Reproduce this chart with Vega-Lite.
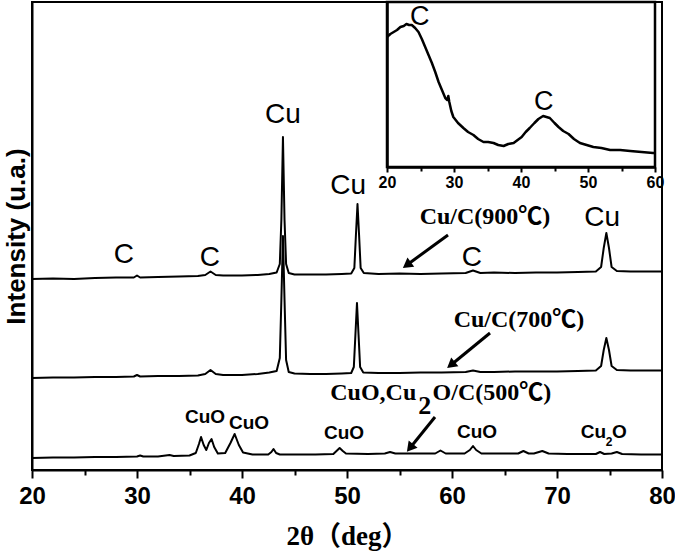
{
  "$schema": "https://vega.github.io/schema/vega-lite/v6.json",
  "width": 630,
  "height": 468,
  "autosize": "none",
  "padding": {"left": 32, "top": 2, "right": 13, "bottom": 84},
  "background": "white",
  "config": {
    "view": {"stroke": "black", "strokeWidth": 2},
    "axis": {"grid": false}
  },
  "datasets": {
    "xrd": [
      {"s":"900","t":20,"i":191},{"s":"900","t":22,"i":191.5},{"s":"900","t":24,"i":191},{"s":"900","t":26,"i":192},{"s":"900","t":28,"i":192.5},{"s":"900","t":29.7,"i":192.5},{"s":"900","t":30.0,"i":194.5},{"s":"900","t":30.3,"i":192.5},{"s":"900","t":32,"i":193},{"s":"900","t":34,"i":193.5},{"s":"900","t":35.8,"i":194},{"s":"900","t":36.5,"i":195},{"s":"900","t":37.0,"i":198.5},{"s":"900","t":37.5,"i":195},{"s":"900","t":38.2,"i":194.5},{"s":"900","t":40,"i":194.5},{"s":"900","t":41.5,"i":195},{"s":"900","t":42.6,"i":196},{"s":"900","t":43.3,"i":197.5},{"s":"900","t":43.6,"i":206},{"s":"900","t":43.75,"i":250},{"s":"900","t":43.9,"i":333},{"s":"900","t":44.05,"i":250},{"s":"900","t":44.2,"i":206},{"s":"900","t":44.45,"i":197},{"s":"900","t":45,"i":195.5},{"s":"900","t":46.5,"i":195.5},{"s":"900","t":48,"i":195.5},{"s":"900","t":49.5,"i":196},{"s":"900","t":50.4,"i":196.5},{"s":"900","t":50.7,"i":202},{"s":"900","t":50.85,"i":235},{"s":"900","t":51.0,"i":266},{"s":"900","t":51.15,"i":235},{"s":"900","t":51.3,"i":202},{"s":"900","t":51.6,"i":197},{"s":"900","t":53,"i":196},{"s":"900","t":55,"i":196.5},{"s":"900","t":57,"i":196},{"s":"900","t":59,"i":196.5},{"s":"900","t":61.3,"i":197},{"s":"900","t":62.0,"i":199.5},{"s":"900","t":62.7,"i":197},{"s":"900","t":64,"i":197.5},{"s":"900","t":66,"i":197},{"s":"900","t":68,"i":197.5},{"s":"900","t":70,"i":197.5},{"s":"900","t":72,"i":198},{"s":"900","t":73.7,"i":198.5},{"s":"900","t":74.2,"i":203},{"s":"900","t":74.45,"i":222},{"s":"900","t":74.7,"i":237},{"s":"900","t":74.95,"i":222},{"s":"900","t":75.2,"i":203},{"s":"900","t":75.7,"i":199},{"s":"900","t":77,"i":198.5},{"s":"900","t":80,"i":198.5},
      {"s":"700","t":20,"i":92},{"s":"700","t":22,"i":92.5},{"s":"700","t":24,"i":92.5},{"s":"700","t":26,"i":93},{"s":"700","t":28,"i":93},{"s":"700","t":29.7,"i":93.5},{"s":"700","t":30.0,"i":95},{"s":"700","t":30.3,"i":93.5},{"s":"700","t":32,"i":94},{"s":"700","t":34,"i":94},{"s":"700","t":35.8,"i":94.5},{"s":"700","t":36.5,"i":96},{"s":"700","t":37.0,"i":100},{"s":"700","t":37.5,"i":96},{"s":"700","t":38.2,"i":95},{"s":"700","t":40,"i":95},{"s":"700","t":41.5,"i":96},{"s":"700","t":42.6,"i":97.5},{"s":"700","t":43.3,"i":99},{"s":"700","t":43.6,"i":112},{"s":"700","t":43.75,"i":170},{"s":"700","t":43.9,"i":234},{"s":"700","t":44.05,"i":170},{"s":"700","t":44.2,"i":110},{"s":"700","t":44.45,"i":98},{"s":"700","t":45,"i":96.5},{"s":"700","t":46.5,"i":96},{"s":"700","t":48,"i":96},{"s":"700","t":49.5,"i":96.5},{"s":"700","t":50.4,"i":97},{"s":"700","t":50.65,"i":103},{"s":"700","t":50.8,"i":135},{"s":"700","t":50.95,"i":167},{"s":"700","t":51.1,"i":135},{"s":"700","t":51.25,"i":103},{"s":"700","t":51.55,"i":97.5},{"s":"700","t":53,"i":97},{"s":"700","t":55,"i":97},{"s":"700","t":57,"i":97.5},{"s":"700","t":59,"i":97.5},{"s":"700","t":61.3,"i":98},{"s":"700","t":62.0,"i":99.5},{"s":"700","t":62.7,"i":98},{"s":"700","t":64,"i":98},{"s":"700","t":66,"i":98.5},{"s":"700","t":68,"i":98.5},{"s":"700","t":70,"i":98.5},{"s":"700","t":72,"i":99},{"s":"700","t":73.7,"i":99.5},{"s":"700","t":74.2,"i":104},{"s":"700","t":74.45,"i":120},{"s":"700","t":74.7,"i":132},{"s":"700","t":74.95,"i":120},{"s":"700","t":75.2,"i":104},{"s":"700","t":75.7,"i":100},{"s":"700","t":77,"i":99.5},{"s":"700","t":80,"i":99.5},
      {"s":"500","t":20,"i":12},{"s":"500","t":22,"i":12.5},{"s":"500","t":24,"i":12.5},{"s":"500","t":26,"i":13},{"s":"500","t":28,"i":13},{"s":"500","t":30.0,"i":13.5},{"s":"500","t":30.3,"i":14.5},{"s":"500","t":30.6,"i":13.5},{"s":"500","t":32,"i":13.5},{"s":"500","t":33.1,"i":15},{"s":"500","t":33.5,"i":14},{"s":"500","t":35,"i":14.5},{"s":"500","t":35.6,"i":17},{"s":"500","t":35.9,"i":26},{"s":"500","t":36.1,"i":33},{"s":"500","t":36.35,"i":25},{"s":"500","t":36.6,"i":20},{"s":"500","t":36.85,"i":27},{"s":"500","t":37.1,"i":31},{"s":"500","t":37.35,"i":23},{"s":"500","t":37.7,"i":16.5},{"s":"500","t":38.4,"i":17},{"s":"500","t":38.9,"i":27},{"s":"500","t":39.3,"i":36},{"s":"500","t":39.7,"i":25},{"s":"500","t":40.1,"i":17.5},{"s":"500","t":41,"i":15.5},{"s":"500","t":42.5,"i":15.5},{"s":"500","t":42.8,"i":18},{"s":"500","t":43.0,"i":21},{"s":"500","t":43.25,"i":17},{"s":"500","t":43.6,"i":15.5},{"s":"500","t":45,"i":15.5},{"s":"500","t":47,"i":15.5},{"s":"500","t":48.7,"i":16},{"s":"500","t":49.0,"i":19},{"s":"500","t":49.3,"i":22},{"s":"500","t":49.6,"i":19},{"s":"500","t":49.9,"i":16.5},{"s":"500","t":52,"i":16},{"s":"500","t":53.6,"i":16.5},{"s":"500","t":54.1,"i":18},{"s":"500","t":54.6,"i":16.5},{"s":"500","t":56,"i":16.5},{"s":"500","t":58.4,"i":16.5},{"s":"500","t":58.9,"i":19.5},{"s":"500","t":59.4,"i":16.5},{"s":"500","t":61.2,"i":16.5},{"s":"500","t":61.7,"i":20},{"s":"500","t":62.0,"i":24},{"s":"500","t":62.3,"i":20},{"s":"500","t":62.8,"i":16.5},{"s":"500","t":64,"i":16.5},{"s":"500","t":66.3,"i":16.5},{"s":"500","t":66.8,"i":19},{"s":"500","t":67.3,"i":16.5},{"s":"500","t":67.8,"i":16.5},{"s":"500","t":68.6,"i":19},{"s":"500","t":69.2,"i":16.5},{"s":"500","t":71,"i":16},{"s":"500","t":72.5,"i":16},{"s":"500","t":73.7,"i":16},{"s":"500","t":74.1,"i":18},{"s":"500","t":74.5,"i":16},{"s":"500","t":75.2,"i":16.5},{"s":"500","t":75.7,"i":18},{"s":"500","t":76.2,"i":16},{"s":"500","t":78,"i":15.5},{"s":"500","t":80,"i":15.5}
    ],
    "inset": [
      {"t":20.0,"i":130},{"t":20.5,"i":133},{"t":21.0,"i":135},{"t":21.5,"i":137},{"t":22.0,"i":140},{"t":22.5,"i":141},{"t":22.9,"i":143},{"t":23.3,"i":142},{"t":23.7,"i":142},{"t":24.2,"i":139},{"t":24.7,"i":135},{"t":25.2,"i":128},{"t":25.7,"i":120},{"t":26.2,"i":112},{"t":26.7,"i":104},{"t":27.2,"i":95},{"t":27.7,"i":85},{"t":28.2,"i":77},{"t":28.7,"i":69},{"t":29.0,"i":67},{"t":29.15,"i":71},{"t":29.3,"i":65},{"t":29.6,"i":56},{"t":29.9,"i":50},{"t":30.6,"i":44},{"t":31.4,"i":39},{"t":32.1,"i":35},{"t":32.9,"i":32},{"t":33.6,"i":28},{"t":34.4,"i":25},{"t":35.1,"i":25},{"t":35.9,"i":24},{"t":36.6,"i":22},{"t":37.4,"i":21},{"t":38.1,"i":23},{"t":38.9,"i":24},{"t":39.5,"i":27},{"t":40.1,"i":30},{"t":40.7,"i":35},{"t":41.3,"i":39},{"t":42.0,"i":44},{"t":42.6,"i":48},{"t":43.3,"i":51},{"t":43.8,"i":50},{"t":44.3,"i":49},{"t":45.0,"i":44},{"t":45.6,"i":40},{"t":46.3,"i":36},{"t":47.1,"i":33},{"t":47.9,"i":28},{"t":48.8,"i":24},{"t":49.8,"i":22},{"t":50.8,"i":20},{"t":52.0,"i":19},{"t":53.3,"i":17},{"t":54.8,"i":17},{"t":56.3,"i":16},{"t":58.0,"i":15},{"t":59.7,"i":14},{"t":60,"i":14}
    ],
    "labels": [
      {"k":"big","t":43.9,"i":355,"txt":"Cu"},
      {"k":"big","t":50.1,"i":284,"txt":"Cu"},
      {"k":"big","t":28.76,"i":215,"txt":"C"},
      {"k":"big","t":36.95,"i":212,"txt":"C"},
      {"k":"big","t":61.9,"i":212,"txt":"C"},
      {"k":"big","t":74.3,"i":252,"txt":"Cu"},
      {"k":"smp","t":63.14,"i":253,"txt":"Cu/C(900℃)"},
      {"k":"smp","t":66.38,"i":150,"txt":"Cu/C(700℃)"},
      {"k":"smp2","t":57.4,"i":64,"txt":"2"},
      {"k":"smpR","t":56.6,"i":77,"txt":"CuO,Cu"},
      {"k":"smpL","t":58.15,"i":77,"txt":"O/C(500℃)"},
      {"k":"cuo","t":36.48,"i":53,"txt":"CuO"},
      {"k":"cuo","t":40.67,"i":47,"txt":"CuO"},
      {"k":"cuo","t":49.71,"i":37,"txt":"CuO"},
      {"k":"cuo","t":62.38,"i":38,"txt":"CuO"},
      {"k":"cuoR","t":74.67,"i":38,"txt":"Cu"},
      {"k":"cuoL","t":75.24,"i":38,"txt":"O"},
      {"k":"sub","t":74.95,"i":28,"txt":"2"}
    ],
    "arrows": [
      {"a":"900","t":59.62,"i":235,"t2":55.7,"i2":205},
      {"a":"700","t":63.62,"i":137,"t2":59.9,"i2":105},
      {"a":"500","t":58.38,"i":53,"t2":56.0,"i2":22}
    ]
  },
  "layer": [
    {
      "layer": [
        {
          "data": {"name": "xrd"},
          "mark": {"type": "line", "color": "black", "strokeWidth": 2, "strokeJoin": "round"},
          "encoding": {
            "x": {
              "field": "t", "type": "quantitative",
              "scale": {"domain": [20, 80], "nice": false, "zero": false},
              "axis": {
                "orient": "bottom",
                "values": [20, 25, 30, 35, 40, 45, 50, 55, 60, 65, 70, 75, 80],
                "labelExpr": "datum.value % 10 === 0 ? datum.label : ''",
                "tickSize": {"condition": {"test": "datum.value % 10 === 0", "value": 8}, "value": 5},
                "tickWidth": 2, "tickColor": "black",
                "domainColor": "black", "domainWidth": 2,
                "labelFont": "Liberation Sans Narrow, Liberation Sans", "labelFontWeight": "bold", "labelFontSize": 24,
                "labelColor": "black", "labelPadding": 6, "labelFlush": false, "labelOverlap": false,
                "title": "2θ（deg）", "titleFont": "Liberation Serif, Noto Sans CJK SC", "titleFontWeight": "bold",
                "titleFontSize": 27, "titleColor": "black", "titlePadding": 15
              }
            },
            "y": {
              "field": "i", "type": "quantitative",
              "scale": {"domain": [0, 468], "nice": false},
              "axis": {
                "orient": "left", "labels": false, "ticks": false,
                "domainColor": "black", "domainWidth": 2,
                "title": "Intensity (u.a.)", "titleFont": "Liberation Sans", "titleFontWeight": "bold",
                "titleFontSize": 26, "titleColor": "black", "titlePadding": 3
              }
            },
            "detail": {"field": "s", "type": "nominal"}
          }
        },
        {
          "data": {"name": "arrows"},
          "mark": {"type": "rule", "color": "black", "strokeWidth": 3},
          "encoding": {
            "x": {"field": "t", "type": "quantitative"},
            "y": {"field": "i", "type": "quantitative"},
            "x2": {"field": "t2"},
            "y2": {"field": "i2"}
          }
        },
        {
          "data": {"name": "arrows"},
          "transform": [{"filter": "datum.a === '900'"}],
          "mark": {"type": "point", "shape": "triangle-up", "filled": true, "color": "black", "opacity": 1, "size": 130, "angle": 234},
          "encoding": {"x": {"field": "t2", "type": "quantitative"}, "y": {"field": "i2", "type": "quantitative"}}
        },
        {
          "data": {"name": "arrows"},
          "transform": [{"filter": "datum.a === '700'"}],
          "mark": {"type": "point", "shape": "triangle-up", "filled": true, "color": "black", "opacity": 1, "size": 130, "angle": 231},
          "encoding": {"x": {"field": "t2", "type": "quantitative"}, "y": {"field": "i2", "type": "quantitative"}}
        },
        {
          "data": {"name": "arrows"},
          "transform": [{"filter": "datum.a === '500'"}],
          "mark": {"type": "point", "shape": "triangle-up", "filled": true, "color": "black", "opacity": 1, "size": 130, "angle": 219},
          "encoding": {"x": {"field": "t2", "type": "quantitative"}, "y": {"field": "i2", "type": "quantitative"}}
        },
        {
          "data": {"name": "labels"},
          "transform": [{"filter": "datum.k === 'big'"}],
          "mark": {"type": "text", "font": "Liberation Sans", "fontSize": 28, "color": "black", "align": "center", "baseline": "middle"},
          "encoding": {"x": {"field": "t", "type": "quantitative"}, "y": {"field": "i", "type": "quantitative"}, "text": {"field": "txt"}}
        },
        {
          "data": {"name": "labels"},
          "transform": [{"filter": "datum.k === 'smp'"}],
          "mark": {"type": "text", "font": "Liberation Serif, Noto Sans CJK SC", "fontSize": 24, "fontWeight": "bold", "color": "black", "align": "center", "baseline": "middle"},
          "encoding": {"x": {"field": "t", "type": "quantitative"}, "y": {"field": "i", "type": "quantitative"}, "text": {"field": "txt"}}
        },
        {
          "data": {"name": "labels"},
          "transform": [{"filter": "datum.k === 'smp2'"}],
          "mark": {"type": "text", "font": "Liberation Serif", "fontSize": 26, "fontWeight": "bold", "color": "black", "align": "center", "baseline": "middle"},
          "encoding": {"x": {"field": "t", "type": "quantitative"}, "y": {"field": "i", "type": "quantitative"}, "text": {"field": "txt"}}
        },
        {
          "data": {"name": "labels"},
          "transform": [{"filter": "datum.k === 'smpR'"}],
          "mark": {"type": "text", "font": "Liberation Serif, Noto Sans CJK SC", "fontSize": 24, "fontWeight": "bold", "color": "black", "align": "right", "baseline": "middle"},
          "encoding": {"x": {"field": "t", "type": "quantitative"}, "y": {"field": "i", "type": "quantitative"}, "text": {"field": "txt"}}
        },
        {
          "data": {"name": "labels"},
          "transform": [{"filter": "datum.k === 'smpL'"}],
          "mark": {"type": "text", "font": "Liberation Serif, Noto Sans CJK SC", "fontSize": 24, "fontWeight": "bold", "color": "black", "align": "left", "baseline": "middle"},
          "encoding": {"x": {"field": "t", "type": "quantitative"}, "y": {"field": "i", "type": "quantitative"}, "text": {"field": "txt"}}
        },
        {
          "data": {"name": "labels"},
          "transform": [{"filter": "datum.k === 'cuo'"}],
          "mark": {"type": "text", "font": "Liberation Sans", "fontSize": 19, "fontWeight": "bold", "color": "black", "align": "center", "baseline": "middle"},
          "encoding": {"x": {"field": "t", "type": "quantitative"}, "y": {"field": "i", "type": "quantitative"}, "text": {"field": "txt"}}
        },
        {
          "data": {"name": "labels"},
          "transform": [{"filter": "datum.k === 'cuoR'"}],
          "mark": {"type": "text", "font": "Liberation Sans", "fontSize": 19, "fontWeight": "bold", "color": "black", "align": "right", "baseline": "middle"},
          "encoding": {"x": {"field": "t", "type": "quantitative"}, "y": {"field": "i", "type": "quantitative"}, "text": {"field": "txt"}}
        },
        {
          "data": {"name": "labels"},
          "transform": [{"filter": "datum.k === 'cuoL'"}],
          "mark": {"type": "text", "font": "Liberation Sans", "fontSize": 19, "fontWeight": "bold", "color": "black", "align": "left", "baseline": "middle"},
          "encoding": {"x": {"field": "t", "type": "quantitative"}, "y": {"field": "i", "type": "quantitative"}, "text": {"field": "txt"}}
        },
        {
          "data": {"name": "labels"},
          "transform": [{"filter": "datum.k === 'sub'"}],
          "mark": {"type": "text", "font": "Liberation Sans", "fontSize": 12, "fontWeight": "bold", "color": "black", "align": "center", "baseline": "middle"},
          "encoding": {"x": {"field": "t", "type": "quantitative"}, "y": {"field": "i", "type": "quantitative"}, "text": {"field": "txt"}}
        }
      ]
    },
    {
      "layer": [
        {
          "data": {"values": [{}]},
          "mark": {"type": "rect", "fill": "white", "stroke": "black", "strokeWidth": 2.5},
          "encoding": {
            "x": {"datum": 20, "type": "quantitative"},
            "x2": {"datum": 60},
            "y": {"datum": 0, "type": "quantitative"},
            "y2": {"datum": 165}
          }
        },
        {
          "data": {"name": "inset"},
          "mark": {"type": "line", "color": "black", "strokeWidth": 2.5, "strokeJoin": "round"},
          "encoding": {
            "x": {
              "field": "t", "type": "quantitative",
              "scale": {"domain": [20, 60], "range": [355, 623], "nice": false, "zero": false},
              "axis": {
                "orient": "bottom", "offset": -303, "zindex": 1,
                "values": [20, 25, 30, 35, 40, 45, 50, 55, 60],
                "labelExpr": "datum.value % 10 === 0 ? datum.label : ''",
                "tickSize": {"condition": {"test": "datum.value % 10 === 0", "value": 5}, "value": 4},
                "tickWidth": 2, "tickColor": "black",
                "domainColor": "black", "domainWidth": 2.5,
                "labelFont": "Liberation Sans", "labelFontWeight": "bold", "labelFontSize": 16,
                "labelColor": "black", "labelPadding": 2, "labelFlush": false, "labelOverlap": false,
                "title": null
              }
            },
            "y": {
              "field": "i", "type": "quantitative",
              "scale": {"domain": [0, 165], "range": [165, 0], "nice": false, "zero": false},
              "axis": {
                "orient": "left", "offset": -355, "zindex": 1, "labels": false, "ticks": false,
                "domainColor": "black", "domainWidth": 2.5, "title": null
              }
            }
          }
        },
        {
          "data": {"values": [{"t": 24.9, "i": 150, "txt": "C"}, {"t": 43.4, "i": 65, "txt": "C"}]},
          "mark": {"type": "text", "font": "Liberation Sans", "fontSize": 27, "color": "black", "align": "center", "baseline": "middle"},
          "encoding": {"x": {"field": "t", "type": "quantitative"}, "y": {"field": "i", "type": "quantitative"}, "text": {"field": "txt"}}
        }
      ]
    }
  ],
  "resolve": {
    "scale": {"x": "independent", "y": "independent"},
    "axis": {"x": "independent", "y": "independent"}
  }
}
